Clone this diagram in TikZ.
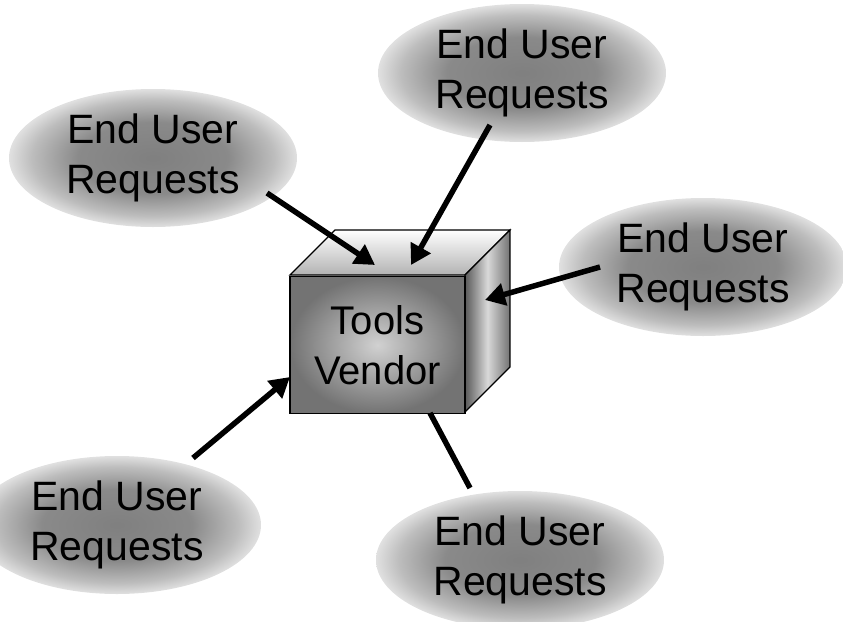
\documentclass[tikz,border=0pt]{standalone}
\usepackage{fontspec}
\setmainfont{Liberation Sans}
\usetikzlibrary{arrows.meta,shapes.geometric}
\pgfdeclareradialshading{glow}{\pgfpoint{0bp}{0bp}}{color(0bp)=(black!50); color(13bp)=(black!46); color(21bp)=(black!26); color(25bp)=(black!12); color(50bp)=(black!12)}
\tikzset{
  req/.style={ellipse, shading=glow, minimum width=288pt, minimum height=138pt, inner sep=0pt,
    align=center, font=\fontsize{41}{50}\selectfont},
  conn/.style={line width=5.5pt, -{Triangle[length=20pt,width=22pt]}},
  plain/.style={line width=5.5pt}
}
\begin{document}
\begin{tikzpicture}[x=1pt,y=-1pt]
\useasboundingbox (0,0) rectangle (843,621);
% request ellipses
\node[req] (e1) at (153,158) {End User\\Requests};
\node[req] (e2) at (522,73) {End User\\Requests};
\node[req] (e3) at (703,267) {End User\\Requests};
\node[req] (e4) at (117,525) {End User\\Requests};
\node[req] (e5) at (520,560) {End User\\Requests};
% cube
\path[top color=white, bottom color=black!30, draw=black, line width=1.2pt]
  (290,275) -- (335,230) -- (510,230) -- (465,275) -- cycle;
\path[left color=black!65, right color=black!55, middle color=black!15, draw=black, line width=1.2pt]
  (465,275) -- (510,230) -- (510,367) -- (465,412) -- cycle;
\node[draw=black, line width=1.2pt, inner color=black!18, outer color=black!55,
  minimum width=175pt, minimum height=137pt, inner sep=0pt, align=center,
  font=\fontsize{40}{50}\selectfont] (cube) at (377.5,345) {Tools\\Vendor};
% connector end points
\coordinate (s1) at (267,193); \coordinate (t1) at (375,265);
\coordinate (s2) at (490,125); \coordinate (t2) at (411,265);
\coordinate (s3) at (600,267); \coordinate (t3) at (485,300);
\coordinate (s4) at (193,458); \coordinate (t4) at (290,377);
\coordinate (s5) at (430,413); \coordinate (t5) at (470,488);
\draw[conn] (s1) -- (t1);
\draw[conn] (s2) -- (t2);
\draw[conn] (s3) -- (t3);
\draw[conn] (s4) -- (t4);
\draw[plain] (s5) -- (t5);
\end{tikzpicture}
\end{document}
